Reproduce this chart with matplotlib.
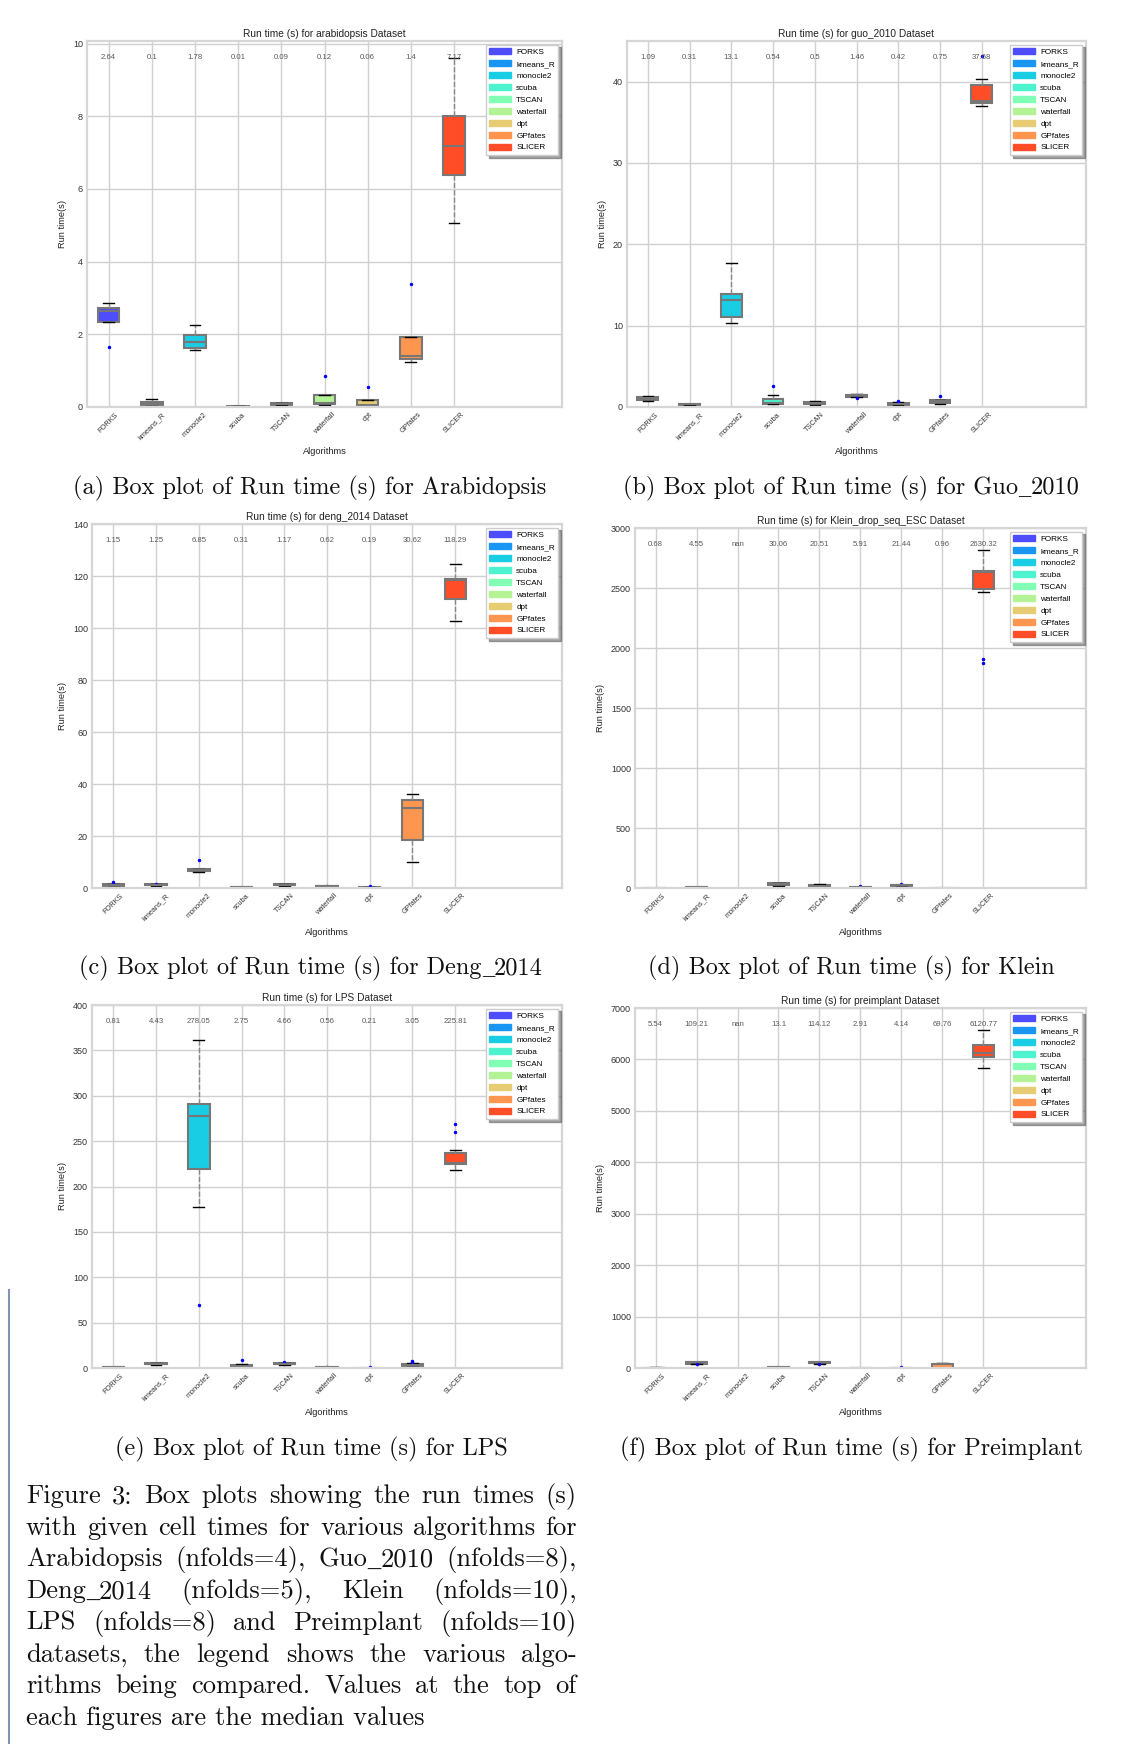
"""
Run-time box plots for six single-cell datasets (Figure 3 page).
Box statistics are read off the published figure and drawn with ax.bxp.
"""

import math

import matplotlib

matplotlib.use("Agg")
import matplotlib.pyplot as plt
from matplotlib.lines import Line2D
from matplotlib.patches import Patch

W, H = 1148, 1744
NAN = float("nan")

ALGOS = ["FORKS", "kmeans_R", "monocle2", "scuba", "TSCAN", "waterfall", "dpt", "GPfates", "SLICER"]
COLOURS = [plt.cm.rainbow(v / 10) for v in range(1, 10)]

# ---- arabidopsis ----
ara_lo = [2.34, 0.03, 1.58, 0.0, 0.05, 0.065, 0.02, 1.25, 5.05]
ara_q1 = [2.34, 0.055, 1.61, 0.003, 0.055, 0.08, 0.027, 1.33, 6.38]
ara_med = [2.64, 0.1, 1.78, 0.01, 0.09, 0.12, 0.06, 1.4, 7.17]
ara_q3 = [2.73, 0.146, 1.99, 0.015, 0.118, 0.33, 0.18, 1.93, 8.01]
ara_hi = [2.86, 0.22, 2.26, 0.02, 0.12, 0.32, 0.18, 1.93, 9.6]
ara_fliers = [[1.66], [], [], [], [], [0.85], [0.54], [3.39], []]

# ---- guo_2010 ----
guo_lo = [0.7, 0.2, 10.29, 0.33, 0.3, 1.25, 0.25, 0.41, 37.05]
guo_q1 = [0.86, 0.25, 11.07, 0.41, 0.4, 1.27, 0.3, 0.5, 37.4]
guo_med = [1.09, 0.31, 13.1, 0.54, 0.5, 1.46, 0.42, 0.75, 37.68]
guo_q3 = [1.19, 0.38, 13.85, 1.02, 0.6, 1.52, 0.55, 0.82, 39.6]
guo_hi = [1.39, 0.42, 17.66, 1.52, 0.72, 1.55, 0.6, 0.85, 40.3]
guo_fliers = [[], [], [], [2.58], [], [1.15], [0.7], [1.31], [43.1]]

# ---- deng_2014 ----
deng_lo = [0.5, 0.9, 6.3, 0.1, 0.9, 0.35, 0.05, 10.0, 102.7]
deng_q1 = [0.8, 1.0, 6.42, 0.15, 1.0, 0.45, 0.1, 18.4, 111.2]
deng_med = [1.15, 1.25, 6.85, 0.31, 1.17, 0.62, 0.19, 30.62, 118.29]
deng_q3 = [1.5, 1.5, 7.45, 0.45, 1.4, 0.85, 0.3, 33.8, 118.9]
deng_hi = [1.6, 1.5, 7.45, 0.5, 1.5, 0.9, 0.35, 36.1, 124.8]
deng_fliers = [[2.2], [1.6], [10.66], [], [], [0.9], [0.6], [], []]

# ---- Klein_drop_seq_ESC ----
klein_lo = [0.3, 3.0, NAN, 19.0, 12.0, 2.0, 12.0, 0.4, 2467]
klein_q1 = [0.4, 3.5, NAN, 22.0, 13.0, 4.0, 13.0, 0.5, 2492]
klein_med = [0.68, 4.55, NAN, 30.06, 20.51, 5.91, 21.44, 0.96, 2630.32]
klein_q3 = [1.0, 5.5, NAN, 42.0, 29.0, 9.0, 26.0, 1.5, 2639]
klein_hi = [1.2, 6.0, NAN, 44.0, 30.0, 10.0, 27.0, 1.8, 2819]
klein_fliers = [[], [], [], [], [], [15], [33], [], [1908, 1872]]

# ---- LPS ----
lps_lo = [0.2, 3.5, 177.2, 1.0, 3.5, 0.2, 0.05, 0.9, 218.7]
lps_q1 = [0.4, 4.0, 219.0, 1.5, 4.0, 0.3, 0.1, 1.8, 224.6]
lps_med = [0.81, 4.43, 278.05, 2.75, 4.66, 0.56, 0.21, 3.05, 225.81]
lps_q3 = [1.2, 5.0, 291.0, 3.7, 5.3, 0.8, 0.35, 4.8, 237.4]
lps_hi = [1.6, 5.3, 361.5, 4.8, 5.6, 1.0, 0.5, 5.5, 240.4]
lps_fliers = [[], [], [69.7], [8.4], [6.6], [1.3], [0.6], [8.1, 6.8], [269.4, 260.2]]

# ---- preimplant ----
pre_lo = [2.0, 80.0, NAN, 6.0, 84.0, 1.5, 2.5, 3.0, 5826]
pre_q1 = [3.0, 84.0, NAN, 8.0, 88.0, 2.0, 3.0, 6.0, 6040]
pre_med = [5.54, 109.21, NAN, 13.1, 114.12, 2.91, 4.14, 69.76, 6120.77]
pre_q3 = [8.0, 117.0, NAN, 18.0, 120.0, 4.0, 5.0, 84.0, 6286]
pre_hi = [10.0, 120.0, NAN, 22.0, 123.0, 4.5, 6.0, 103.0, 6571]
pre_fliers = [[], [78], [], [], [78], [], [20], [], []]

DATASETS = ["arabidopsis", "guo_2010", "deng_2014", "Klein_drop_seq_ESC", "LPS", "preimplant"]
YMAX = [10.07, 45, 140, 3000, 400, 7000]
YSTEP = [2, 10, 20, 500, 50, 1000]

SUBCAPTIONS = [
    "(a) Box plot of Run time (s) for Arabidopsis",
    "(b) Box plot of Run time (s) for Guo_2010",
    "(c) Box plot of Run time (s) for Deng_2014",
    "(d) Box plot of Run time (s) for Klein",
    "(e) Box plot of Run time (s) for LPS",
    "(f) Box plot of Run time (s) for Preimplant",
]
CAPTION_LINES = [
    "Figure 3: Box plots showing the run times (s)",
    "with given cell times for various algorithms for",
    "Arabidopsis (nfolds=4), Guo_2010 (nfolds=8),",
    "Deng_2014 (nfolds=5), Klein (nfolds=10),",
    "LPS (nfolds=8) and Preimplant (nfolds=10)",
    "datasets, the legend shows the various algo-",
    "rithms being compared. Values at the top of",
    "each figures are the median values",
]

# axes boxes in pixels: left, top, right, bottom
AX_PX = [
    (87, 41, 562, 407),
    (627, 41, 1086, 407),
    (92, 524, 562, 888),
    (635, 528, 1086, 888),
    (92, 1005, 562, 1368),
    (635, 1008, 1086, 1368),
]
SUBCAP_PX = [(310, 488), (851, 488), (311, 968), (851, 968), (311, 1449), (851, 1449)]

plt.rcParams["font.family"] = ["Liberation Sans", "DejaVu Sans"]
CAP_FONT = ["cmr10", "DejaVu Serif"]
USCORE_FONT = ["Liberation Serif", "DejaVu Serif"]  # cmr10 has a dot accent at '_'
SUBCAP_FS = 17.5
PARA_FS = 19.1
CAP_COLOUR = "#111111"


def _stats(lo, q1, med, q3, hi, fliers):
    out, pos = [], []
    for i in range(len(med)):
        if math.isnan(med[i]):
            continue
        out.append({"whislo": lo[i], "q1": q1[i], "med": med[i], "q3": q3[i],
                    "whishi": hi[i], "fliers": fliers[i]})
        pos.append(i + 1)
    return out, pos


def _panel(ax, name, data, ymax, ystep):
    stats, pos = _stats(*data)
    parts = ax.bxp(
        stats, positions=pos, widths=0.5, patch_artist=True, manage_ticks=False,
        boxprops=dict(edgecolor="#777777", linewidth=1.5),
        medianprops=dict(color="#777777", linewidth=1.5),
        whiskerprops=dict(color="#888888", linestyle="--", linewidth=1),
        capprops=dict(color="black", linewidth=1),
        flierprops=dict(marker=".", markerfacecolor="blue", markeredgecolor="blue", markersize=3),
    )
    for box, p in zip(parts["boxes"], pos):
        box.set_facecolor(COLOURS[p - 1])

    ax.set_xlim(0.5, 11.5)
    ax.set_ylim(0, ymax)
    ax.set_xticks(range(1, 10))
    ax.set_xticklabels(ALGOS, rotation=45, fontsize=5.3)
    ax.set_yticks([ystep * k for k in range(int(ymax // ystep) + 1)])
    ax.tick_params(axis="y", labelsize=6.5)
    ax.tick_params(length=0, colors="#333333", pad=3)
    ax.grid(True, color="#d0d0d0", linewidth=1)
    ax.set_axisbelow(True)
    for sp in ax.spines.values():
        sp.set_color("#d6d6d6")
        sp.set_linewidth(1.6)

    meds = data[2]
    for i, m in enumerate(meds):
        ax.text(i + 1, 0.955, str(m), transform=ax.get_xaxis_transform(),
                ha="center", va="center", fontsize=5.6, color="#5a5a5a")

    ax.set_title(f"Run time (s) for {name} Dataset", fontsize=7.3, pad=3, color="#222222")
    ax.set_xlabel("Algorithms", fontsize=6.7, color="#222222")
    ax.set_ylabel("Run time(s)", fontsize=6.7, color="#222222")

    handles = [Patch(facecolor=c, edgecolor=c, label=a) for a, c in zip(ALGOS, COLOURS)]
    leg = ax.legend(handles=handles, loc="upper right", fontsize=5.9, labelspacing=0.5,
                    handlelength=2.6, handleheight=0.75, borderpad=0.4, shadow=True,
                    fancybox=False, framealpha=1, borderaxespad=0.45, handletextpad=0.7)
    leg.get_frame().set_edgecolor("#cccccc")
    leg.get_frame().set_linewidth(1)


def _pieces(s):
    """Split a caption string at '_' so the underscore comes from a font that has one."""
    out = []
    for j, part in enumerate(s.split("_")):
        if j:
            out.append(("_", USCORE_FONT))
        if part:
            out.append((part, CAP_FONT))
    return out


def _make(fig, renderer, pieces, y, size):
    texts = [fig.text(0, 1 - y / H, s, family=f, fontsize=size, ha="left",
                      va="baseline", color=CAP_COLOUR) for s, f in pieces]
    widths = [t.get_window_extent(renderer).width for t in texts]
    return texts, widths


def _place(texts, widths, x):
    for t, w in zip(texts, widths):
        t.set_x(x / W)
        x += w
    return x


def main():
    fig = plt.figure(figsize=(W / 100, H / 100), dpi=100)
    panel_data = [
        (ara_lo, ara_q1, ara_med, ara_q3, ara_hi, ara_fliers),
        (guo_lo, guo_q1, guo_med, guo_q3, guo_hi, guo_fliers),
        (deng_lo, deng_q1, deng_med, deng_q3, deng_hi, deng_fliers),
        (klein_lo, klein_q1, klein_med, klein_q3, klein_hi, klein_fliers),
        (lps_lo, lps_q1, lps_med, lps_q3, lps_hi, lps_fliers),
        (pre_lo, pre_q1, pre_med, pre_q3, pre_hi, pre_fliers),
    ]
    for k in range(6):
        l, t, r, b = AX_PX[k]
        ax = fig.add_axes([l / W, 1 - b / H, (r - l) / W, (b - t) / H])
        _panel(ax, DATASETS[k], panel_data[k], YMAX[k], YSTEP[k])

    renderer = fig.canvas.get_renderer()

    # sub-captions, centred under each panel
    for cap, (x, y) in zip(SUBCAPTIONS, SUBCAP_PX):
        texts, widths = _make(fig, renderer, _pieces(cap), y + 6, SUBCAP_FS)
        _place(texts, widths, x - sum(widths) / 2)

    # justified figure caption
    left, right = 26, 577
    for i, line in enumerate(CAPTION_LINES):
        y = 1503 + 31.7 * i
        if i == len(CAPTION_LINES) - 1:
            texts, widths = _make(fig, renderer, _pieces(line), y, PARA_FS)
            _place(texts, widths, left)
            continue
        words = [_make(fig, renderer, _pieces(w), y, PARA_FS) for w in line.split()]
        total = sum(sum(ws) for _, ws in words)
        gap = (right - left - total) / (len(words) - 1)
        x = left
        for texts, widths in words:
            x = _place(texts, widths, x) + gap

    fig.add_artist(Line2D([9 / W, 9 / W], [0, 1 - 1290 / H], transform=fig.transFigure,
                          color="#8093b3", linewidth=1.5))

    fig.savefig("out.png", dpi=100)
    plt.close(fig)


if __name__ == "__main__":
    main()
